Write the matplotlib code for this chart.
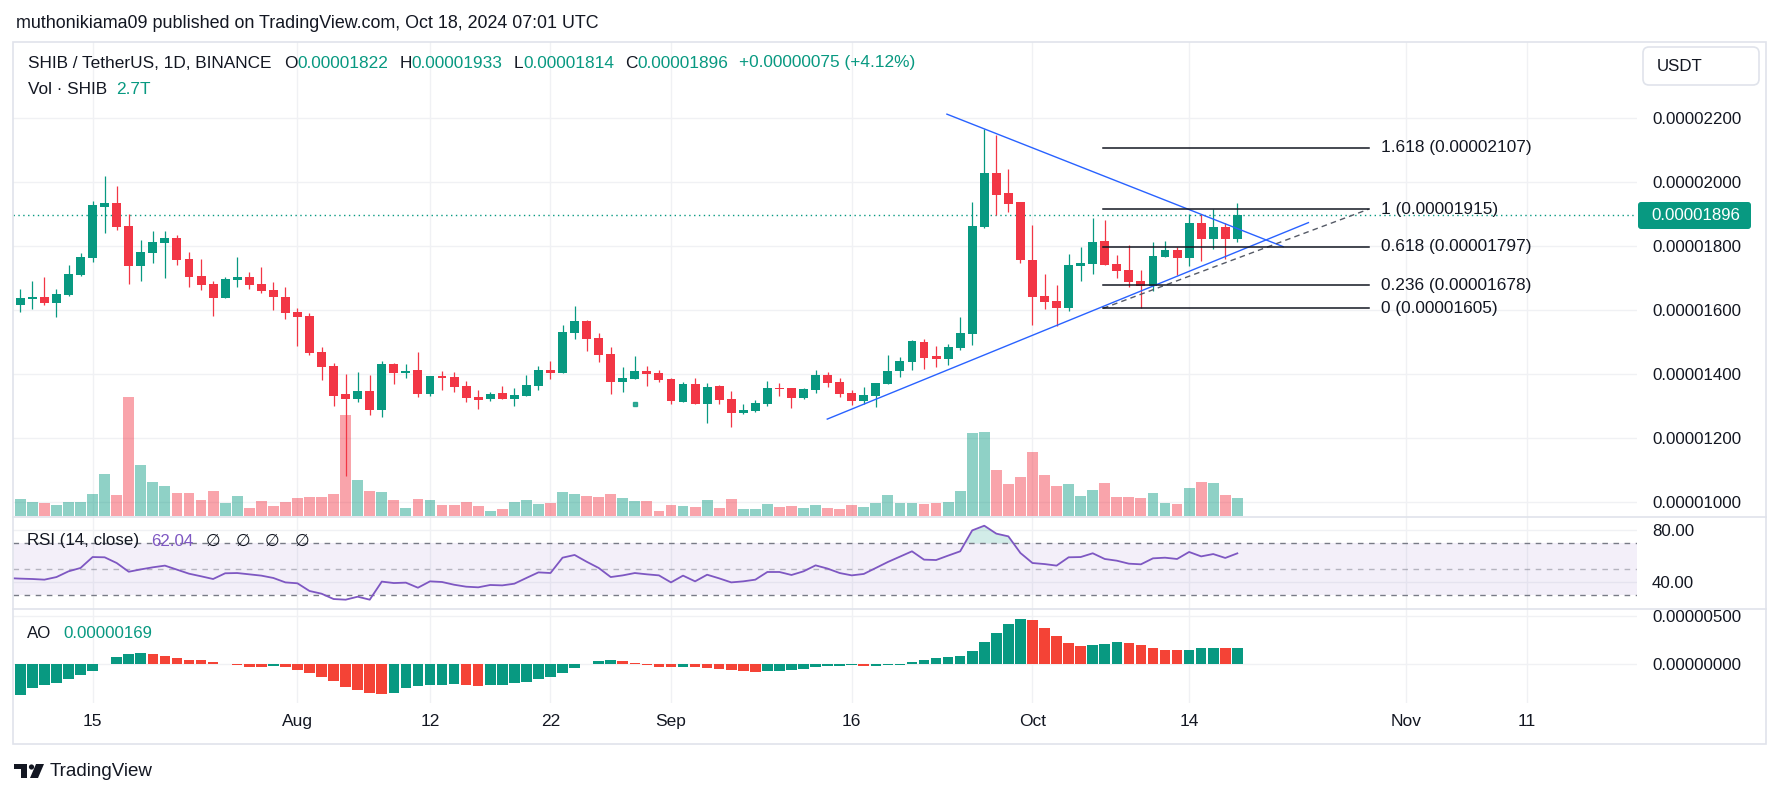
import numpy as np
import pandas as pd
import matplotlib
matplotlib.use("Agg")
import matplotlib.pyplot as plt
from matplotlib.patches import Rectangle, FancyBboxPatch, Circle, Polygon
from matplotlib.transforms import blended_transform_factory

plt.rcParams['font.family'] = ['Liberation Sans', 'DejaVu Sans']

W, H = 1781, 798
E = 1e-8  # prices, AO are stored in units of 0.00000001

start = pd.Timestamp('2024-07-09')  # first daily candle on screen

# daily candles SHIB/USDT, Jul 9 .. Oct 18 2024 (x 1e-8)
opens = [1617, 1634, 1641, 1623, 1647, 1709, 1764, 1922, 1934, 1863,
         1739, 1778, 1809, 1825, 1759, 1706, 1681, 1638, 1694, 1703,
         1681, 1663, 1641, 1594, 1581, 1469, 1425, 1338, 1322, 1347,
         1288, 1431, 1403, 1413, 1338, 1394, 1391, 1363, 1328, 1322,
         1341, 1322, 1331, 1363, 1413, 1403, 1528, 1566, 1513, 1463,
         1375, 1384, 1409, 1403, 1384, 1313, 1369, 1306, 1363, 1322,
         1278, 1284, 1306, 1356, 1356, 1325, 1350, 1397, 1375, 1341,
         1316, 1331, 1369, 1409, 1438, 1500, 1456, 1447, 1481, 1525,
         1859, 2028, 1966, 1938, 1756, 1644, 1628, 1606, 1738, 1744,
         1816, 1744, 1725, 1691, 1675, 1766, 1788, 1763, 1872, 1822,
         1859, 1822]
highs = [1666, 1691, 1703, 1666, 1741, 1778, 1941, 2019, 1988, 1900,
         1819, 1847, 1847, 1834, 1781, 1759, 1691, 1703, 1766, 1719,
         1734, 1688, 1672, 1606, 1591, 1484, 1434, 1400, 1406, 1397,
         1441, 1434, 1431, 1469, 1394, 1409, 1406, 1378, 1350, 1344,
         1363, 1356, 1397, 1425, 1441, 1553, 1613, 1569, 1528, 1484,
         1422, 1456, 1425, 1413, 1388, 1375, 1388, 1372, 1366, 1347,
         1306, 1319, 1378, 1372, 1356, 1356, 1413, 1406, 1388, 1350,
         1359, 1372, 1459, 1453, 1506, 1509, 1488, 1494, 1578, 1938,
         2166, 2147, 2041, 1938, 1866, 1713, 1678, 1775, 1797, 1888,
         1881, 1772, 1803, 1725, 1813, 1816, 1797, 1900, 1900, 1916,
         1872, 1933]
lows = [1595, 1603, 1616, 1579, 1644, 1706, 1750, 1841, 1850, 1682,
        1689, 1747, 1700, 1741, 1672, 1663, 1581, 1638, 1672, 1666,
        1653, 1600, 1572, 1488, 1459, 1381, 1300, 1081, 1313, 1272,
        1266, 1369, 1388, 1328, 1331, 1350, 1344, 1313, 1291, 1316,
        1322, 1300, 1331, 1350, 1384, 1403, 1509, 1472, 1438, 1338,
        1344, 1384, 1363, 1375, 1306, 1313, 1306, 1247, 1306, 1234,
        1275, 1281, 1300, 1331, 1294, 1322, 1341, 1359, 1328, 1303,
        1306, 1297, 1369, 1391, 1413, 1416, 1422, 1428, 1475, 1491,
        1856, 1897, 1906, 1747, 1553, 1603, 1550, 1597, 1691, 1713,
        1741, 1700, 1672, 1606, 1659, 1766, 1709, 1738, 1753, 1791,
        1759, 1814]
closes = [1638, 1641, 1623, 1650, 1713, 1766, 1928, 1934, 1859, 1739,
          1781, 1813, 1825, 1756, 1703, 1678, 1638, 1697, 1703, 1678,
          1659, 1641, 1591, 1578, 1466, 1422, 1331, 1322, 1347, 1288,
          1431, 1403, 1409, 1338, 1394, 1388, 1359, 1325, 1319, 1338,
          1322, 1334, 1366, 1413, 1403, 1531, 1566, 1509, 1459, 1375,
          1388, 1409, 1400, 1381, 1316, 1369, 1306, 1359, 1319, 1278,
          1288, 1309, 1356, 1354, 1325, 1353, 1397, 1372, 1338, 1316,
          1334, 1372, 1409, 1441, 1503, 1450, 1447, 1484, 1528, 1863,
          2028, 1959, 1931, 1756, 1641, 1625, 1606, 1741, 1747, 1813,
          1741, 1722, 1688, 1675, 1769, 1788, 1763, 1872, 1822, 1859,
          1821, 1896]
# volume in trillions of SHIB
volumes = [2.55, 2.1, 1.95, 1.65, 2.1, 2.1, 3.3, 6.3, 3.15, 17.85,
           7.65, 5.1, 4.5, 3.45, 3.45, 2.4, 3.75, 1.95, 3.0, 1.2,
           2.25, 1.5, 2.1, 2.7, 2.85, 2.85, 3.3, 15.15, 5.4, 3.75,
           3.6, 2.4, 1.2, 2.55, 2.4, 1.65, 1.65, 2.1, 1.5, 0.75,
           1.05, 2.1, 2.4, 1.8, 1.95, 3.6, 3.3, 3.0, 2.85, 3.3,
           2.7, 2.25, 2.25, 0.75, 1.65, 1.5, 1.35, 2.4, 1.2, 2.55,
           1.05, 1.05, 1.8, 1.35, 1.5, 1.2, 1.65, 1.2, 1.05, 1.65,
           1.35, 1.95, 3.15, 1.95, 1.95, 1.8, 1.95, 2.1, 3.75, 12.45,
           12.6, 6.9, 4.8, 5.85, 9.6, 6.15, 4.5, 4.8, 3.0, 3.9,
           4.95, 2.85, 2.85, 2.7, 3.45, 1.95, 1.8, 4.2, 5.1, 4.95,
           3.15, 2.7]
rsi_before = 43.0  # value one day before the first candle
rsi = [42.6, 42.3, 41.8, 43.8, 48.2, 50.8, 59.2, 59.0, 54.6, 47.9,
       49.7, 51.3, 52.6, 49.5, 46.4, 44.4, 42.3, 46.7, 46.9, 45.9,
       44.9, 43.1, 39.7, 39.0, 33.1, 31.0, 26.9, 26.4, 28.7, 26.4,
       40.3, 39.2, 39.5, 35.6, 40.5, 40.0, 37.9, 36.4, 35.9, 37.7,
       37.4, 38.7, 43.1, 47.4, 46.9, 58.7, 60.8, 55.6, 50.8, 43.8,
       45.1, 46.9, 45.9, 45.1, 39.7, 44.9, 40.5, 45.6, 42.8, 39.7,
       40.5, 41.8, 47.7, 47.7, 45.4, 48.2, 52.8, 50.3, 46.9, 45.1,
       46.2, 50.8, 55.4, 59.5, 63.6, 57.2, 56.9, 60.3, 63.6, 79.7,
       83.3, 77.2, 75.1, 62.3, 54.6, 53.8, 52.6, 59.0, 59.2, 62.1,
       57.7, 56.4, 54.1, 53.6, 58.2, 58.7, 57.7, 63.1, 59.7, 61.5,
       58.5, 62.04]
ao = [-319, -247, -215, -198, -156, -115, -69, 3, 76, 104,
      115, 104, 83, 66, 45, 42, 21, 3, -14, -28,
      -29, -17, -28, -59, -94, -132, -177, -236, -271, -299,
      -309, -299, -247, -229, -215, -214, -213, -219, -226, -215,
      -214, -201, -187, -156, -132, -90, -38, -3, 35, 42,
      31, 10, -14, -28, -30, -26, -35, -38, -49, -59,
      -69, -80, -72, -69, -59, -49, -28, -20, -17, -15,
      -22, -17, -12, -8, 21, 42, 66, 76, 87, 135,
      229, 323, 417, 469, 458, 375, 292, 219, 187, 198,
      208, 229, 219, 198, 167, 146, 145, 148, 163, 167,
      165, 169]

tick_dates = ['2024-07-15', '2024-08-01', '2024-08-12', '2024-08-22', '2024-09-01',
              '2024-09-16', '2024-10-01', '2024-10-14', '2024-11-01', '2024-11-11']
tick_labels = ['15', 'Aug', '12', '22', 'Sep', '16', 'Oct', '14', 'Nov', '11']
price_ticks = [1000, 1200, 1400, 1600, 1800, 2000, 2200]

# drawings (day offset from start, price x1e-8)
upper_line = [(76.9, 2212), (104.8, 1798)]
lower_line = [(66.97, 1259), (106.9, 1873)]
fib_diag = [(89.86, 1605), (111.9, 1915)]
fib_ratios = ['1.618', '1', '0.618', '0.236', '0']
fib_prices = [2107, 1915, 1797, 1678, 1605]
fib_x = (89.86, 111.9)
event_dot = (51, 1306)

DARK = '#131722'
TEAL = '#089981'
RED = '#F23645'
AO_RED = '#F44336'
PURPLE = '#7E57C2'
GRID = '#F0F1F4'
BORDER = '#E0E3EB'
FS = 12.2


def frac(x0, y0, x1, y1):
    return [x0 / W, 1 - y1 / H, (x1 - x0) / W, (y1 - y0) / H]


def chain(ax, x, y, parts, size=FS):
    # texts one after another, gaps in pixels
    t = ax.text(x, y, parts[0][0], color=parts[0][1], fontsize=size, va='center', ha='left')
    for txt, col, gap in parts[1:]:
        t = ax.annotate(txt, xy=(1, 0), xycoords=t, xytext=(gap * 0.72, 0),
                        textcoords='offset points', color=col, fontsize=size,
                        va='bottom', ha='left')
    return t


o = np.array(opens)
h = np.array(highs)
l = np.array(lows)
c = np.array(closes)
x = np.arange(len(o))
up = c >= o
cols = np.where(up, TEAL, RED)
tick_x = [(pd.Timestamp(d) - start).days for d in tick_dates]

fig = plt.figure(figsize=(W / 100, H / 100), dpi=100)
fig.patch.set_facecolor('white')
ax_p = fig.add_axes(frac(13, 42, 1637, 517))
ax_r = fig.add_axes(frac(13, 517, 1637, 609))
ax_a = fig.add_axes(frac(13, 609, 1637, 703))

for ax in (ax_p, ax_r, ax_a):
    ax.set_xlim(-0.606, 134.17)
    ax.set_xticks(tick_x)
    ax.grid(True, color=GRID, lw=1)
    ax.set_axisbelow(True)
    for s in ax.spines.values():
        s.set_visible(False)
    ax.yaxis.tick_right()
    ax.tick_params(length=0, labelsize=FS, labelcolor=DARK, pad=10.8)
    ax.tick_params(axis='x', labelbottom=False)
ax_a.set_xticklabels(tick_labels)
ax_a.tick_params(axis='x', labelbottom=True, pad=8, labelsize=12.5)

# price pane
ax_p.set_ylim(953 * E, 2437.5 * E)
ax_p.set_yticks([p * E for p in price_ticks])
ax_p.set_yticklabels([f'{p * E:.8f}' for p in price_ticks])

vol_trans = blended_transform_factory(ax_p.transData, ax_p.transAxes)
vol_frac = 6.67 / 475  # axes fraction per trillion
for xi, v, u in zip(x, volumes, up):
    ax_p.add_patch(Rectangle((xi - 0.45, 0.002), 0.9, v * vol_frac, transform=vol_trans,
                             facecolor=TEAL if u else RED, alpha=0.45, lw=0, zorder=1))

ax_p.vlines(x, l * E, h * E, color=cols, lw=0.9, zorder=3)
body_h = np.maximum(np.abs(c - o), 2.5)
ax_p.bar(x, body_h * E, bottom=np.minimum(o, c) * E, width=0.74, color=cols, lw=0, zorder=4)
ax_p.plot(event_dot[0], event_dot[1] * E, 's', ms=2.2, color=TEAL, alpha=0.8, zorder=4)

ax_p.axhline(c[-1] * E, color=TEAL, lw=1, ls=(0, (1, 2.5)), zorder=2)

for seg in (upper_line, lower_line):
    ax_p.plot([seg[0][0], seg[1][0]], [seg[0][1] * E, seg[1][1] * E], color='#2962FF', lw=1.0, zorder=5)
ax_p.plot([fib_diag[0][0], fib_diag[1][0]], [fib_diag[0][1] * E, fib_diag[1][1] * E],
          color='#555a66', lw=1.0, ls=(0, (4, 3)), zorder=5)
for r, p in zip(fib_ratios, fib_prices):
    ax_p.plot(fib_x, [p * E, p * E], color=DARK, lw=1.1, zorder=5)
    ax_p.text(112.9, p * E, f'{r} ({p * E:.8f})', color=DARK, fontsize=12.4,
              va='center', ha='left', zorder=6)

# RSI pane
rv = np.array([rsi_before] + rsi)
xr = np.arange(-1, len(rsi))
ax_r.set_ylim(19.23, 90)
ax_r.set_yticks([40, 80])
ax_r.set_yticklabels(['40.00', '80.00'])
ax_r.axhspan(30, 70, color=PURPLE, alpha=0.09, lw=0)
for lvl, a in ((70, 1.0), (50, 0.5), (30, 1.0)):
    ax_r.axhline(lvl, color='#787B86', lw=1, ls=(0, (4, 4)), alpha=a)
ax_r.fill_between(xr, rv, 70, where=rv > 70, interpolate=True, color=TEAL, alpha=0.18, lw=0)
ax_r.plot(xr, rv, color=PURPLE, lw=1.3)

# AO pane
av = np.array(ao)
ao_up = np.diff(av, prepend=av[0] - 1) > 0
ax_a.set_ylim(-406 * E, 573 * E)
ax_a.set_yticks([0, 500 * E])
ax_a.set_yticklabels(['0.00000000', '0.00000500'])
ax_a.bar(x, av * E, width=0.88, color=np.where(ao_up, TEAL, AO_RED), lw=0)

# overlay: frame, legends, labels
top = fig.add_axes([0, 0, 1, 1], zorder=10)
top.set_xlim(0, W)
top.set_ylim(H, 0)
top.axis('off')

top.add_patch(Rectangle((13, 42), 1753, 702, fill=False, ec=BORDER, lw=1.2))
for yy in (517, 609):
    top.plot([13, 1766], [yy, yy], color=BORDER, lw=1.2)

top.text(16, 23, 'muthonikiama09 published on TradingView.com, Oct 18, 2024 07:01 UTC',
         fontsize=12.9, color=DARK, va='center', ha='left')

chg = c[-1] - c[-2]
chain(top, 27.6, 63, [
    ('SHIB / TetherUS, 1D, BINANCE', DARK, 0),
    ('O', DARK, 13), (f'{o[-1] * E:.8f}', TEAL, 0),
    ('H', DARK, 11), (f'{h[-1] * E:.8f}', TEAL, 0),
    ('L', DARK, 11), (f'{l[-1] * E:.8f}', TEAL, 0),
    ('C', DARK, 11), (f'{c[-1] * E:.8f}', TEAL, 0),
    (f'{chg * E:+.8f} ({chg / c[-2] * 100:+.2f}%)', TEAL, 11),
], size=12.4)
chain(top, 27.6, 90, [('Vol · SHIB', DARK, 0), (f'{volumes[-1]:.1f}T', TEAL, 9)], size=12.4)
chain(top, 27.3, 541, [('RSI (14, close)', DARK, 0), (f'{rsi[-1]:.2f}', PURPLE, 12),
                       ('∅', DARK, 12), ('∅', DARK, 15), ('∅', DARK, 15), ('∅', DARK, 15)])
chain(top, 27.3, 633, [('AO', DARK, 0), (f'{ao[-1] * E:.8f}', TEAL, 12)])

# USDT box and last price tag
top.add_patch(FancyBboxPatch((1643, 47), 116, 38, boxstyle='round,pad=0,rounding_size=6',
                             fc='white', ec=BORDER, lw=1.2))
top.text(1657, 66.5, 'USDT', fontsize=FS, color=DARK, va='center', ha='left')
top.add_patch(FancyBboxPatch((1638, 202), 113, 27, boxstyle='round,pad=0,rounding_size=3',
                             fc=TEAL, ec='none'))
top.text(1651, 215.5, f'{c[-1] * E:.8f}', fontsize=FS, color='white', va='center', ha='left')

# TradingView logo
top.add_patch(Rectangle((14, 764), 13, 5, fc=DARK, ec='none'))
top.add_patch(Rectangle((21, 764), 6, 14, fc=DARK, ec='none'))
top.add_patch(Circle((31.5, 767), 2.6, fc=DARK, ec='none'))
top.add_patch(Polygon([(36, 764), (44, 764), (38, 778), (30, 778)], closed=True, fc=DARK, ec='none'))
top.text(50, 771.5, 'TradingView', fontsize=13.5, color=DARK, va='center', ha='left')

fig.savefig('out.png', dpi=100, facecolor='white')
